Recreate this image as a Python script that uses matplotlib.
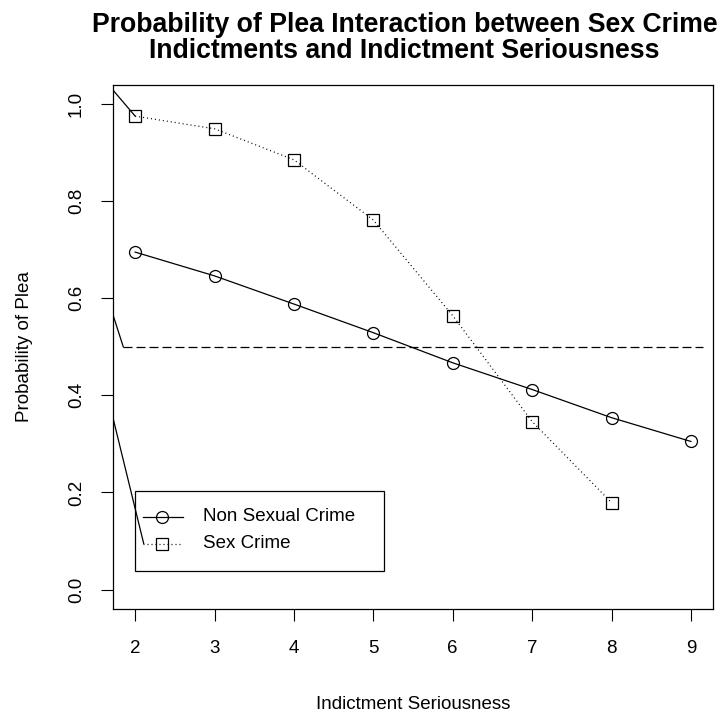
import matplotlib
matplotlib.use("Agg")
import matplotlib.pyplot as plt
from matplotlib.patches import Rectangle

plt.rcParams["font.family"] = ["Liberation Sans", "DejaVu Sans"]

# Indictment seriousness levels and fitted plea probabilities
seriousness = [2, 3, 4, 5, 6, 7, 8, 9]
p_non_sexual = [0.695, 0.646, 0.588, 0.529, 0.467, 0.412, 0.354, 0.305]
sex_seriousness = [2, 3, 4, 5, 6, 7, 8]
p_sex_crime = [0.975, 0.949, 0.885, 0.761, 0.564, 0.346, 0.179]

# 0.5 reference line
ref_x = [1.85, 9.15]
ref_y = [0.5, 0.5]

# stray connector segments entering from the left margin
stray_x = [[1.50, 2.0], [1.50, 1.85], [1.50, 2.107]]
stray_y = [[1.071, 0.975], [0.678, 0.5], [0.501, 0.095]]

fig = plt.figure(figsize=(7.24, 7.12), dpi=100)
ax = fig.add_axes([0.156, 0.1447, 0.829, 0.7365])

lw = 0.9
dots = (0.8, 2.4)
ax.plot(seriousness, p_non_sexual, "-", color="black", lw=lw,
        marker="o", ms=8.6, mfc="none", mec="black", mew=lw)
ax.plot(sex_seriousness, p_sex_crime, color="black", lw=lw, dashes=dots,
        marker="s", ms=9.0, mfc="none", mec="black", mew=lw)
ax.plot(ref_x, ref_y, color="black", lw=lw, dashes=(7.2, 3.2))
for sx, sy in zip(stray_x, stray_y):
    ax.plot(sx, sy, "-", color="black", lw=lw)

ax.set_xlim(1.72, 9.28)
ax.set_ylim(-0.04, 1.04)
ax.set_xticks(seriousness)
ax.set_yticks([0.0, 0.2, 0.4, 0.6, 0.8, 1.0])
ax.set_yticklabels(["0.0", "0.2", "0.4", "0.6", "0.8", "1.0"],
                   rotation=90, va="center")
ax.tick_params(direction="out", length=8.6, width=0.8, labelsize=13.5)
ax.tick_params(axis="x", pad=13.5)
ax.tick_params(axis="y", pad=11.5)
for s in ax.spines.values():
    s.set_linewidth(0.9)

ax.set_xlabel("Indictment Seriousness", fontsize=13.5, labelpad=28)
ax.set_ylabel("Probability of Plea", fontsize=13.5, labelpad=25)

# legend box drawn by hand
ax.add_patch(Rectangle((2.0, 0.039), 3.14, 0.165, fill=False,
                       edgecolor="black", lw=0.9, zorder=3))
ax.plot([2.097, 2.60], [0.150, 0.150], "-", color="black", lw=lw)
ax.plot([2.34], [0.150], marker="o", ms=8.6, mfc="none", mec="black", mew=lw)
ax.plot([2.097, 2.60], [0.0947, 0.0947], color="black", lw=lw, dashes=dots)
ax.plot([2.34], [0.0947], marker="s", ms=9.0, mfc="none", mec="black", mew=lw)
ax.text(2.85, 0.150, "Non Sexual Crime", fontsize=13.5, va="center")
ax.text(2.85, 0.0947, "Sex Crime", fontsize=13.5, va="center")

fig.text(0.559, 1 - 32 / 712, "Probability of Plea Interaction between Sex Crime",
         ha="center", va="baseline", fontsize=19.2, fontweight="bold")
fig.text(0.559, 1 - 58 / 712, "Indictments and Indictment Seriousness",
         ha="center", va="baseline", fontsize=19.2, fontweight="bold")

fig.savefig("out.png", dpi=100)
